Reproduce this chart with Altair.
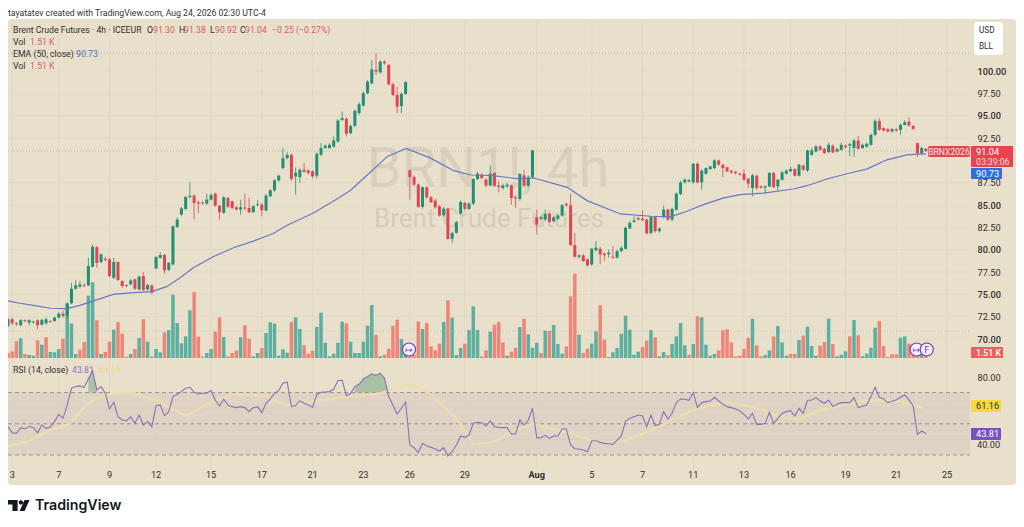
import altair as alt
import pandas as pd

# ---------- data ----------
opens = [71.47,72.21,71.76,71.54,72.10,71.84,71.85,72.10,71.61,71.76,
71.99,72.02,72.40,72.84,72.58,74.0,75.63,75.86,76.0,76.0,
78.09,80.28,78.61,78.98,78.91,76.86,78.61,76.49,76.04,76.12,
76.67,75.56,77.05,75.56,76.0,77.9,79.09,79.43,77.72,78.35,
82.55,83.93,84.56,85.9,86.05,85.3,85.3,85.16,85.6,86.27,
84.93,84.11,85.79,85.42,84.75,84.49,84.72,84.67,84.19,85.0,
85.04,84.37,85.97,86.64,87.76,89.13,90.25,90.62,88.2,88.13,
88.95,88.87,88.76,88.28,90.62,91.37,91.37,91.55,92.11,94.53,
94.64,93.04,93.86,95.28,96.13,97.51,98.62,100.11,99.85,101.04,
100.67,98.51,97.32,96.09,97.43,88.88,88.13,87.28,84.79,86.98,
85.86,85.49,84.86,83.86,84.6,81.21,81.88,84.04,85.23,84.56,
85.16,87.91,88.39,87.84,87.2,88.58,87.17,86.91,87.09,87.2,
85.86,85.68,88.32,87.17,88.13,83.63,83.45,83.37,84.0,83.19,
83.45,83.82,85.12,84.97,80.51,79.21,79.35,78.91,78.35,79.95,
80.1,79.54,79.5,79.21,79.1,79.84,80.1,82.37,83.11,83.52,
83.45,83.37,81.88,83.67,82.07,83.67,84.49,83.37,84.48,86.23,
87.53,87.65,87.53,89.62,87.53,88.5,89.02,89.13,89.99,89.51,
89.21,88.84,88.72,88.5,88.5,87.94,86.9,88.28,87.09,86.94,
87.09,88.58,87.09,87.83,88.5,88.76,89.02,88.28,89.43,88.87,
90.62,90.99,91.55,91.29,90.92,91.63,90.99,91.18,91.63,91.66,
91.37,92.22,91.37,91.55,91.74,92.85,94.42,93.6,93.49,93.23,
93.49,93.41,93.97,94.34,93.86,91.92,90.81,91.30]
closes = [72.21,71.76,71.65,72.10,71.99,72.10,71.95,71.54,72.14,72.21,
71.9,72.40,72.84,72.58,74.0,75.63,76.0,76.12,75.9,78.16,
80.32,78.53,79.46,78.83,77.05,78.61,76.6,75.93,75.93,76.56,
75.63,76.97,75.48,76.04,75.19,79.17,79.39,77.68,78.53,82.63,
83.37,84.63,85.9,86.05,85.23,85.16,85.2,85.6,86.12,84.93,
84.19,85.86,84.78,84.67,84.49,84.75,84.62,84.19,84.86,85.08,
84.41,86.05,86.64,87.76,88.28,90.25,90.62,87.91,88.6,88.95,
88.72,88.58,88.21,90.73,91.37,91.63,91.74,92.22,94.45,94.72,
92.97,93.86,95.54,96.28,97.51,98.81,100.19,99.93,101.04,100.86,
98.51,97.32,96.02,97.43,98.74,88.13,87.28,84.79,86.98,85.86,
85.31,84.75,83.82,84.6,81.21,81.88,83.07,85.34,84.56,85.16,
87.91,88.5,88.02,87.17,88.5,87.17,87.02,87.2,87.28,85.79,
85.72,88.47,87.17,88.13,91.11,82.81,83.63,84.0,83.11,83.63,
83.82,84.97,84.97,80.51,79.21,79.35,78.72,78.24,80.1,80.21,
79.47,79.39,79.65,79.1,79.84,80.21,82.44,83.0,83.26,83.37,
83.3,81.81,83.67,82.07,82.37,84.49,83.37,84.56,86.27,87.53,
87.83,87.79,89.62,87.53,88.84,89.13,89.32,89.99,89.51,89.13,
88.76,88.65,88.58,88.39,87.83,87.39,88.32,86.9,86.94,87.09,
88.58,87.01,87.83,88.65,88.84,89.02,88.28,89.51,88.95,91.11,
91.11,91.55,91.18,90.81,91.74,90.88,91.25,91.74,91.48,91.81,
92.22,91.29,91.74,91.85,92.85,94.42,93.41,93.34,93.23,93.49,
93.34,93.97,94.27,93.9,93.52,90.81,91.37,91.04]
highs = [72.4,72.4,71.9,72.2,72.2,72.2,72.05,72.2,72.3,72.4,
72.1,72.5,73.0,73.2,74.1,76.3,76.6,76.5,76.3,79.09,
80.6,80.4,79.6,79.2,79.1,79.09,78.7,76.6,76.1,76.7,
76.8,77.1,77.49,76.2,76.1,79.3,79.7,79.5,78.6,82.7,
83.6,84.8,86.0,87.54,86.2,85.5,85.4,86.27,86.3,86.4,
85.0,86.0,85.9,85.5,84.9,85.6,86.27,85.79,85.0,85.53,
85.2,86.2,86.8,87.9,88.4,91.37,90.9,90.8,89.2,89.1,
89.69,89.0,88.9,90.9,91.92,91.8,91.9,92.67,94.6,95.46,
94.8,94.0,95.7,96.5,97.7,99.0,101.23,101.97,101.2,101.2,
100.8,98.7,98.25,97.6,98.9,89.0,88.3,87.4,87.1,87.1,
86.0,85.7,85.0,84.8,84.7,82.0,83.2,85.5,85.4,85.3,
88.0,88.7,88.6,88.0,89.4,88.7,87.65,87.4,87.5,87.3,
86.1,88.6,88.95,88.3,91.2,84.49,83.8,84.5,84.1,83.8,
84.0,85.1,85.3,86.27,81.88,79.5,79.5,79.0,80.2,80.95,
80.3,79.7,80.0,80.4,80.0,80.4,82.6,83.2,83.74,83.7,
84.41,83.5,83.8,83.8,82.5,84.93,84.6,84.7,86.4,87.7,
88.0,87.9,89.7,89.8,89.0,89.2,89.4,90.1,90.1,89.6,
89.3,88.9,88.8,88.6,89.02,88.0,88.5,88.4,87.2,87.2,
88.7,88.7,87.9,88.8,89.0,89.3,89.1,89.6,89.5,91.2,
91.4,91.7,91.7,91.4,92.0,91.8,91.4,92.0,91.8,92.0,
92.4,92.74,91.9,92.0,93.0,94.6,94.71,93.7,93.6,93.6,
93.6,94.1,94.5,94.83,93.9,92.0,91.5,91.38]
lows = [71.3,71.6,71.5,71.4,71.9,71.54,71.75,71.09,71.5,71.6,
71.8,71.9,72.3,72.4,72.3,73.9,75.5,75.7,75.8,75.9,
78.0,77.98,78.5,78.7,76.9,76.7,76.5,75.74,75.8,76.0,
75.5,75.4,75.4,75.4,75.0,77.8,79.0,77.34,77.6,78.2,
82.4,83.8,84.4,85.7,83.37,84.11,85.0,85.0,85.5,84.8,
83.37,84.0,84.7,84.5,84.4,83.93,84.4,84.1,84.1,84.8,
83.74,84.3,85.9,86.5,87.6,89.0,90.1,87.7,86.16,87.46,
88.6,88.4,88.0,88.0,90.5,91.3,91.3,91.4,92.0,94.4,
92.67,92.9,93.7,95.1,96.0,97.4,98.5,99.55,99.7,100.7,
98.4,97.2,95.28,95.28,97.3,85.6,87.1,84.7,84.6,85.7,
85.2,84.6,83.7,83.7,81.1,80.77,81.8,83.9,84.4,84.4,
85.0,87.8,87.9,87.0,87.1,87.0,86.42,86.7,86.9,85.05,
84.67,85.5,87.0,87.0,88.0,81.7,83.3,83.2,83.0,83.0,
83.3,83.7,84.8,80.4,79.1,79.0,78.6,78.1,78.2,79.8,
78.35,78.72,79.1,79.0,79.0,79.7,80.0,82.3,83.0,83.3,
83.2,81.7,81.7,81.9,81.9,83.5,83.2,83.2,84.4,86.1,
87.4,87.5,87.4,87.4,86.72,88.4,88.9,89.0,89.4,88.13,
88.7,88.5,88.4,88.3,87.7,86.9,85.97,86.7,86.8,86.34,
87.0,86.9,86.64,87.7,88.4,88.7,88.2,88.2,88.8,88.7,
90.5,90.9,91.1,90.7,90.8,90.8,90.9,91.1,91.3,90.44,
90.36,91.2,91.3,91.4,91.6,92.7,93.3,93.2,93.1,93.1,
93.2,92.85,93.9,93.8,93.4,90.36,90.7,90.92]
volumes = [.5,.67,1.67,1.97,.4,.3,.23,1.77,1.33,2.07,
.6,.57,.9,1.93,5.33,3.43,.4,.83,1.6,6.23,
7.57,3.77,.4,.6,1.63,2.83,3.6,2.43,.13,.4,
.9,2.0,3.87,1.63,.17,.9,.57,2.57,2.8,6.33,
3.5,1.47,2.17,4.77,6.6,2.13,.13,.5,.9,2.63,
4.07,2.1,.17,.5,.73,2.07,3.27,1.93,.17,.5,
1.0,2.5,3.57,3.43,.23,.87,.53,3.6,4.07,2.9,
1.27,.43,.73,3.1,4.53,1.53,.17,.43,1.53,3.63,
3.47,1.63,.5,.5,1.63,3.23,5.3,2.33,.17,.33,
.93,3.23,3.83,1.9,.83,.5,.33,3.67,2.9,3.5,
1.17,.77,1.43,3.6,5.77,4.03,.3,1.0,1.43,2.8,
5.17,2.8,.17,.77,2.63,3.33,3.6,1.57,.23,.63,
1.03,3.1,3.93,2.37,1.03,1.53,.5,2.73,2.7,3.3,
1.4,.43,1.17,6.17,8.43,2.33,.5,.93,1.43,2.67,
5.27,1.83,.1,.57,1.0,2.43,4.23,2.83,.33,.63,
1.1,1.73,2.8,2.07,.17,.6,.3,1.4,2.17,3.5,
1.27,.33,1.4,4.17,4.07,1.33,.23,.4,.77,2.77,
2.87,1.57,.17,.23,.9,2.03,3.93,1.27,.17,.3,
.77,2.17,3.2,1.57,.23,.4,.4,1.8,2.23,3.13,
1.2,.23,1.23,1.6,3.93,1.4,.17,.33,.67,2.17,
3.8,2.27,.17,.43,1.03,3.03,3.7,1.2,.1,.37,
.37,2.03,2.17,1.43,.8,1.1,.9,1.51]
volume_dirs = ("rrrgrggrgr" "gggrgggrrg" "grgrrgrrrg" "rgrgrggrgg" "ggggrrrggr"
               "rgrrrgrrgg" "rggggggrgg" "rrrggggggg" "rggggggrgr" "rrrggrrrgr"
               "rrrgrgggrg" "ggrrgrrrgr" "rgrgggrgrg" "ggrrrgrrgg" "rrgggggggg"
               "rrgrggrggg" "grgrggggrr" "rrrrrrgrrg" "grgggrrgrg" "ggrrgrgggr"
               "grggggrrrr" "rggrrrgr")
rsi = [48.16,44.31,43.88,47.52,46.66,48.38,47.52,44.31,49.23,47.09,
47.95,51.4,56.08,53.51,62.08,72.78,73.85,74.28,73.21,78.8,
83.92,71.71,73.85,69.57,59.51,63.79,54.58,52.44,51.8,54.58,
50.3,55.66,49.23,51.37,48.16,61.65,62.08,55.23,57.8,67.43,
68.93,70.64,72.78,73.43,70.21,69.14,69.57,69.57,71.5,65.29,
61.44,65.72,62.08,61.0,60.37,61.0,60.37,57.8,60.37,61.0,
57.15,63.15,65.93,69.57,71.28,76.21,76.64,61.0,61.65,64.65,
63.15,62.08,60.58,68.93,70.21,70.43,70.64,72.14,77.71,77.92,
68.07,69.57,73.85,75.35,78.78,80.28,82.0,80.92,82.42,79.21,
67.43,62.08,56.3,59.94,63.79,36.39,34.67,31.46,37.46,35.74,
34.89,33.82,32.53,34.67,29.53,32.1,36.39,42.17,41.31,42.81,
50.3,50.94,50.73,48.59,51.8,48.16,47.73,47.52,47.52,43.45,
43.45,52.44,49.23,52.44,59.94,41.1,41.1,42.6,40.67,42.17,
42.17,46.66,46.66,36.39,34.03,33.82,33.17,32.1,39.17,39.17,
38.1,37.46,37.24,36.81,39.6,42.17,51.8,53.51,54.58,55.66,
55.01,48.16,55.66,48.8,49.87,57.8,53.09,56.73,63.58,65.93,
65.72,65.08,70.0,60.58,63.58,64.22,64.65,67.0,64.65,62.72,
61.0,60.37,59.51,58.22,56.08,53.09,56.73,49.66,49.66,50.3,
57.37,50.3,53.51,56.73,57.8,58.44,55.01,59.94,56.73,65.08,
65.29,66.79,64.65,63.15,65.29,61.0,62.51,63.58,63.58,63.58,
66.79,60.37,61.22,62.08,67.43,73.43,67.0,65.93,63.58,64.43,
65.29,67.0,68.5,65.29,61.44,43.24,45.38,43.81]
ema_idx = [0,2.8,6,10,13.9,17,20.2,24.9,29.6,34,37.5,40.7,43.8,48.5,53.3,58,62.7,65.9,72.2,76.9,78.5,
           81,85,89.7,94.1,99.9,105.4,109.4,114.1,120.4,124.3,132.2,136.9,144.8,151.9,156.6,
           160.5,164.4,169.2,173.1,178.6,185.7,188.9,193.6,198.3,203,207.8,212.5,215.3,217]
ema_val = [74.26,74.0,73.77,73.44,73.4,73.77,74.26,75.0,75.19,75.3,75.86,76.86,77.98,79.2,80.21,80.95,81.81,82.7,84.11,85.42,85.9,
           86.65,88.39,90.44,91.33,90.25,88.84,88.36,88.32,87.95,88.02,86.98,85.49,84.0,83.74,83.67,
           84.3,85.04,85.79,86.16,86.34,86.79,87.16,87.91,88.5,89.02,90.06,90.62,90.7,90.73]
rsi_ma_idx = [0,4.4,8.4,14.7,18.6,21.7,25,29.6,35.1,42.2,46.9,53.3,61,65.9,73,80.8,87.9,95,99.7,106,110,
              114.5,119.2,123.9,128.6,133.4,138,142.8,146.7,151,156.4,161.1,165.8,169.8,176,182.6,186.4,192,197.5,204.6,210.9,216.3]
rsi_ma_val = [36,38.3,44,50.4,62.2,67.5,69.6,70,64.7,55,62.5,69,68,61.6,64.8,67.4,69.5,75.9,69.5,53.4,37,
              38,45,50,46.7,43.5,39.2,37,40,44.8,51.2,58,61.6,63.7,61,54.6,52.5,58.8,62,65.3,64.2,60]
price_ticks = [100,97.5,95,92.5,87.5,85,82.5,80,77.5,75,72.5,70]
date_idx = [1,12,24,35,48,60,72,84,95,108,125,138,150,162,174,185,198,210,222]
date_labels = ["3","7","9","12","15","17","21","23","26","29","Aug","5","7","11","13","16","19","21","25"]

GREEN, RED = "#1f8f75", "#df4651"
VG, VR = "#5db09f", "#ee8677"
PANEL = "#e9e0cc"
GRID = "#e2d9c5"
INK = "#2f2f2f"
FONT = "Roboto"
HEAD = 8.7
N = len(opens)
XMAX = 238.3     # bar slots across the plot
RIGHT = 227.4    # slot of the price-scale edge

candles = pd.DataFrame({"i": range(N), "o": opens, "c": closes, "h": highs, "l": lows})
candles["col"] = [GREEN if c >= o else RED for o, c in zip(opens, closes)]
vols = pd.DataFrame({"i": range(N), "v": volumes,
                     "col": [VG if d == "g" else VR for d in volume_dirs]})
rsi_df = pd.DataFrame({"i": range(N), "r": rsi})
ob = rsi_df[rsi_df.i.between(19, 21) | rsi_df.i.between(82, 90)].copy()
ob["r"] = ob["r"].clip(lower=70)
ob["base"] = 70
ema_df = pd.DataFrame({"i": ema_idx, "e": ema_val})
ma_df = pd.DataFrame({"i": rsi_ma_idx, "m": rsi_ma_val})
dates = pd.DataFrame({"d": date_idx, "lab": date_labels})

x_scale = alt.Scale(domain=[0, XMAX], range=[0, 1008], nice=False, zero=False, padding=0)
price_scale = alt.Scale(domain=[70, 100], range=[331, 63], nice=False, zero=False)
rsi_scale = alt.Scale(domain=[30, 80], range=[447, 369], nice=False, zero=False)
vol_scale = alt.Scale(domain=[0, 8.43], range=[350, 265.7], nice=False, zero=False)

def X(f="i:Q", axis=None):
    return alt.X(f, scale=x_scale, axis=axis, title=None)

base = alt.Chart(pd.DataFrame({"a": [0]}))

def txt(x, y, t, size=9.2, color=INK, weight="normal", align="left", font=FONT):
    return base.mark_text(fontSize=size, color=color, fontWeight=weight, align=align,
                          baseline="middle", font=font).encode(
        x=alt.value(x - 8), y=alt.value(y - 8), text=alt.value(t))

def box(x0, x1, y0, y1, color, radius=1):
    return base.mark_rect(color=color, cornerRadius=radius).encode(
        x=alt.value(x0 - 8), x2=alt.value(x1 - 8), y=alt.value(y0 - 8), y2=alt.value(y1 - 8))

def hrule(value, scale, color=GRID, dash=None, width=1):
    kw = {"strokeDash": dash} if dash else {}
    d = pd.DataFrame({"y": [value], "x0": [0], "x1": [RIGHT]})
    return alt.Chart(d).mark_rule(color=color, strokeWidth=width, **kw).encode(
        x=X("x0:Q"), x2="x1:Q", y=alt.Y("y:Q", scale=scale, axis=None, title=None))

layers = []
layers.append(box(8, 1016, 19, 485, PANEL, 3))

# vertical grid at the date positions
layers.append(alt.Chart(dates).mark_rule(color=GRID, strokeWidth=1).encode(
    x=X("d:Q"), y=alt.value(11), y2=alt.value(460)))

# date labels
layers.append(alt.Chart(dates[dates.lab != "Aug"]).mark_text(
    fontSize=9.2, font=FONT, color=INK, baseline="middle", align="center").encode(
    x=X("d:Q"), y=alt.value(467), text="lab:N"))
layers.append(alt.Chart(dates[dates.lab == "Aug"]).mark_text(
    fontSize=9.2, font=FONT, color=INK, fontWeight="bold", baseline="middle", align="center").encode(
    x=X("d:Q"), y=alt.value(467), text="lab:N"))

# price axis + horizontal grid
layers.append(alt.Chart(pd.DataFrame({"p": price_ticks, "x0": 0, "x1": RIGHT})).mark_rule(color=GRID).encode(
    x=X("x0:Q"), x2="x1:Q",
    y=alt.Y("p:Q", scale=price_scale, title=None,
            axis=alt.Axis(orient="right", values=price_ticks, format=".2f", domain=False, ticks=False,
                          grid=False, labelFont=FONT, labelFontSize=9.2, labelColor=INK, labelPadding=0,
                          labelOverlap=False, labelFlush=False, offset=-39, zindex=1, title=None,
                          labelFontWeight=alt.condition("datum.value % 5 == 0", alt.value(500), alt.value("normal"))))))

# watermark
layers.append(txt(488, 170, "BRN1!, 4h", 56, "#d8cfbc", align="center"))
layers.append(txt(489, 219, "Brent Crude Futures", 26, "#d5ccb9", align="center"))

# dotted levels
layers.append(hrule(102.0, price_scale, "#bdb29e", [1, 2]))
layers.append(hrule(91.04, price_scale, "#bdb29e", [1, 2]))
layers.append(hrule(2.7, vol_scale, "#c9bfaa", [1, 2]))

# volume
layers.append(alt.Chart(vols).mark_bar(orient="vertical", size=3.5).encode(
    x=X(), y=alt.Y("v:Q", scale=vol_scale, axis=None, stack=None, title=None),
    color=alt.Color("col:N", scale=None)))

# candles
layers.append(alt.Chart(candles).mark_rule(strokeWidth=0.8).encode(
    x=X(), y=alt.Y("l:Q", scale=price_scale, axis=None, title=None), y2="h:Q",
    color=alt.Color("col:N", scale=None)))
layers.append(alt.Chart(candles).mark_bar(orient="vertical", size=3).encode(
    x=X(), y=alt.Y("o:Q", scale=price_scale, axis=None, title=None), y2="c:Q",
    color=alt.Color("col:N", scale=None)))

# EMA
layers.append(alt.Chart(ema_df).mark_line(color="#6479c4", strokeWidth=1.2).encode(
    x=X(), y=alt.Y("e:Q", scale=price_scale, axis=None, title=None)))

# RSI pane
layers.append(alt.Chart(pd.DataFrame({"a": [70], "b": [30], "x0": [0], "x1": [RIGHT]})).mark_rect(
    color="#dcd0c3", opacity=0.85).encode(
    x=X("x0:Q"), x2="x1:Q", y=alt.Y("a:Q", scale=rsi_scale, axis=None, title=None), y2="b:Q"))
for lv in (60, 40):
    layers.append(hrule(lv, rsi_scale, "#d8ccbd"))
for lv in (70, 50, 30):
    layers.append(hrule(lv, rsi_scale, "#9b9186", [4, 3]))
layers.append(alt.Chart(ob).mark_area(color="#7fae8a", opacity=0.6).encode(
    x=X(), y=alt.Y("r:Q", scale=rsi_scale, axis=None, title=None), y2="base:Q",
    detail=alt.Detail("g:N")).transform_calculate(g="datum.i < 50 ? 0 : 1"))
layers.append(alt.Chart(ma_df).mark_line(color="#ecdcb0", strokeWidth=2.4).encode(
    x=X(), y=alt.Y("m:Q", scale=rsi_scale, axis=None, title=None)))
layers.append(alt.Chart(rsi_df).mark_line(color="#8a72b8", strokeWidth=1.1).encode(
    x=X(), y=alt.Y("r:Q", scale=rsi_scale, axis=None, title=None)))
layers.append(alt.Chart(pd.DataFrame({"t": [80]})).mark_text(opacity=0).encode(
    y=alt.Y("t:Q", scale=rsi_scale, title=None,
            axis=alt.Axis(orient="right", values=[80], format=".2f", domain=False, ticks=False, grid=False,
                          labelFont=FONT, labelFontSize=9.2, labelColor=INK, labelPadding=0,
                          labelFlush=False, labelOverlap=False, offset=-39, zindex=1, title=None)),
    text=alt.value("")))
layers.append(txt(977, 445, "40.00", 9.2))

# icons on the volume pane
icons = pd.DataFrame({"x": [94.8, 214.8, 217.2], "v": [0.85, 0.85, 0.85], "t": ["↦", "↦", "F"]})
layers.append(alt.Chart(icons).mark_point(filled=True, fill="#f4f0f4", stroke="#6a3fc0", strokeWidth=1.2,
                                          size=170, opacity=1).encode(
    x=X("x:Q"), y=alt.Y("v:Q", scale=vol_scale, axis=None, title=None)))
layers.append(alt.Chart(icons).mark_text(color="#6a3fc0", fontSize=9, font="DejaVu Sans").encode(
    x=X("x:Q"), y=alt.Y("v:Q", scale=vol_scale, axis=None, title=None), text="t:N"))

# tags at the price scale
layers += [
    box(928, 970, 146, 157, "#ea4350", 2), txt(949, 151.5, "BRNX2026", 8.6, "#fde8e8", align="center"),
    box(971, 1013, 146, 167, "#ea4350", 1),
    txt(976, 151.5, "91.04", 9.2, "#ffffff"), txt(976, 161.5, "03:39:06", 8.7, "#fcdcdc"),
    box(971, 1002, 168, 179, "#2f6fe0", 1), txt(976, 173.5, "90.73", 9.2, "#ffffff"),
    box(971, 1003, 347, 358, "#ec5f5c", 1), txt(976, 352.5, "1.51 K", 8.7, "#ffffff", 500),
    box(971, 1001, 400, 412, "#f6d83f", 1), txt(976, 406, "61.16", 9.2, "#333333"),
    box(971, 1001, 428, 440, "#7a52c0", 1), txt(976, 434, "43.81", 9.2, "#ffffff"),
    box(974, 1003, 22, 55, "#ffffff", 3),
    txt(979, 31, "USD", 8.2), txt(979, 47, "BLL", 8.2),
]

# header texts
layers += [
    txt(8, 12.5, "tayatatev created with TradingView.com, Aug 24, 2026 02:30 UTC-4", HEAD, "#333333"),
    txt(13, 30, "Brent Crude Futures · 4h · ICEEUR", HEAD),
    txt(147, 30, "O", HEAD), txt(153, 30, "91.30", HEAD, "#dd5a5f"),
    txt(179, 30, "H", HEAD), txt(184, 30, "91.38", HEAD, "#dd5a5f"),
    txt(210, 30, "L", HEAD), txt(215, 30, "90.92", HEAD, "#dd5a5f"),
    txt(240, 30, "C", HEAD), txt(245, 30, "91.04", HEAD, "#dd5a5f"),
    txt(272, 30, "−0.25 (−0.27%)", HEAD, "#dd5a5f"),
    txt(13, 42, "Vol", HEAD), txt(30, 42, "1.51 K", HEAD, "#dd5a5f"),
    txt(13, 54, "EMA (50, close)", HEAD), txt(76, 54, "90.73", HEAD, "#4a6fd0"),
    txt(13, 66, "Vol", HEAD), txt(30, 66, "1.51 K", HEAD, "#dd5a5f"),
    txt(13, 370, "RSI (14, close)", HEAD), txt(72, 370, "43.81", HEAD, "#8a72c8"),
    txt(99, 370, "61.16", HEAD, "#f0d878"),
]

# footer logo + wordmark
logo = ("M-1 -0.5H-0.08V0.5H-0.55V-0.08H-1Z"
        "M0.02 -0.28a0.2 0.2 0 1 0 0.4 0a0.2 0.2 0 1 0 -0.4 0Z"
        "M0.55 -0.5H1L0.55 0.5H0.1Z")
layers.append(base.mark_point(shape=logo, filled=True, color="#131722", size=484, opacity=1).encode(
    x=alt.value(10.5), y=alt.value(497.5)))
layers.append(txt(35, 506, "TradingView", 14.2, "#131722", 600, font="Inter"))

chart = (alt.layer(*layers)
         .resolve_scale(y="independent")
         .properties(width=1008, height=510, padding=0,
                     autosize=alt.AutoSizeParams(type="none"), background="white")
         .configure_view(strokeWidth=0))
chart.save("out.html", embed_options={"renderer": "svg", "actions": False})
